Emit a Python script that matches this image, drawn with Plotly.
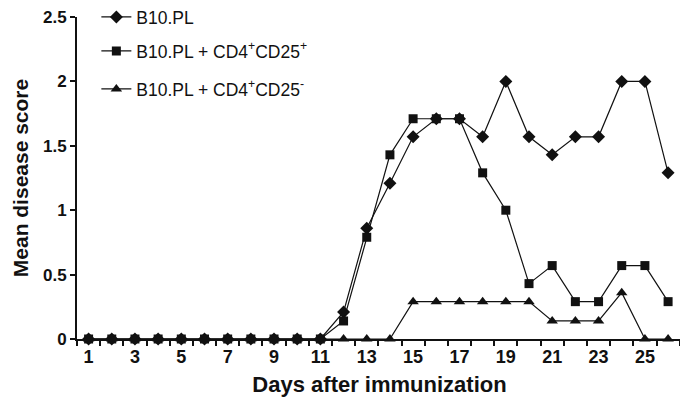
import plotly.graph_objects as go

days = list(range(1, 27))
b10pl = [0, 0, 0, 0, 0, 0, 0, 0, 0, 0, 0, 0.21, 0.86, 1.21, 1.57, 1.71, 1.71, 1.57,
         2.0, 1.57, 1.43, 1.57, 1.57, 2.0, 2.0, 1.29]
cd25_pos = [0, 0, 0, 0, 0, 0, 0, 0, 0, 0, 0, 0.14, 0.79, 1.43, 1.71, 1.71, 1.71, 1.29,
            1.0, 0.43, 0.57, 0.29, 0.29, 0.57, 0.57, 0.29]
cd25_neg = [0, 0, 0, 0, 0, 0, 0, 0, 0, 0, 0, 0, 0, 0, 0.29, 0.29, 0.29, 0.29,
            0.29, 0.29, 0.14, 0.14, 0.14, 0.36, 0, 0]
series_names = ["B10.PL", "B10.PL + CD4<sup>+</sup>CD25<sup>+</sup>",
                "B10.PL + CD4<sup>+</sup>CD25<sup>-</sup>"]
x_tick_vals = list(range(1, 27, 2))
y_tick_vals = [0, 0.5, 1, 1.5, 2, 2.5]
y_tick_text = ["0", "0.5", "1", "1.5", "2", "2.5"]

INK = "#111111"
FONT = "Liberation Sans, Arial, sans-serif"

fig = go.Figure()
specs = [
    (b10pl, "diamond", 10, "legend"),
    (cd25_pos, "square", 9, "legend2"),
    (cd25_neg, "triangle-up", 10, "legend3"),
]
for (vals, sym, size, leg), name in zip(specs, series_names):
    fig.add_trace(go.Scatter(
        x=days, y=vals, name=name, mode="lines+markers",
        line=dict(color=INK, width=1.2),
        marker=dict(symbol=sym, size=size, color=INK),
        cliponaxis=False, legend=leg, showlegend=True,
    ))

# page body has an 8px default margin, so margins are offset by 8px
PH = 322
leg_common = dict(xanchor="left", yanchor="middle", bgcolor="rgba(0,0,0,0)",
                  font=dict(family=FONT, size=17.5, color=INK), borderwidth=0,
                  visible=True)
fig.update_layout(
    width=688, height=410,
    margin=dict(l=69, r=14, t=9, b=79, autoexpand=False),
    plot_bgcolor="white", paper_bgcolor="white",
    font=dict(family=FONT, color=INK),
    showlegend=True,
    legend=dict(x=0.032, y=(PH - 0) / PH, **leg_common),
    legend2=dict(x=0.032, y=(PH - 34) / PH, **leg_common),
    legend3=dict(x=0.032, y=(PH - 72) / PH, **leg_common),
    xaxis=dict(
        range=[0.5, 26.6], tickmode="array", tickvals=x_tick_vals,
        ticks="outside", ticklen=0, showline=True, linecolor=INK, linewidth=2,
        showgrid=False, zeroline=False, automargin=False,
        tickfont=dict(family=FONT, size=18, color=INK, weight="bold"),
        minor=dict(tickmode="linear", tick0=0.5, dtick=1, ticks="outside",
                   ticklen=5, tickcolor=INK, tickwidth=1.5, showgrid=False),
        title=dict(text="Days after immunization", standoff=11,
                   font=dict(family=FONT, size=22, color=INK, weight="bold")),
    ),
    yaxis=dict(
        range=[0, 2.5], tickmode="array", tickvals=y_tick_vals, ticktext=y_tick_text,
        ticks="outside", ticklen=5, tickwidth=1.5, tickcolor=INK,
        showline=True, linecolor=INK, linewidth=2, showgrid=False, zeroline=False,
        automargin=False, ticklabeloverflow="allow",
        tickfont=dict(family=FONT, size=17, color=INK, weight="bold"),
        title=dict(text="Mean disease score", standoff=9,
                   font=dict(family=FONT, size=21, color=INK, weight="bold")),
    ),
)

fig.write_html("out.html")
